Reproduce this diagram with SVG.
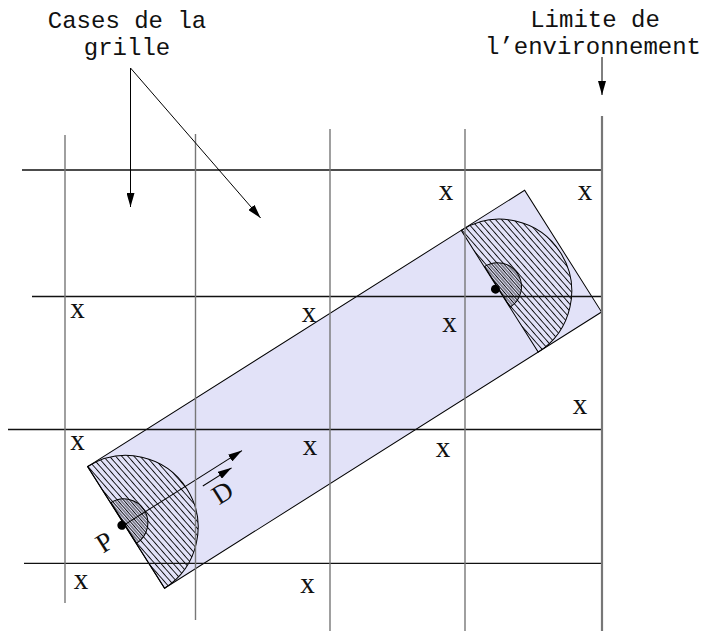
<svg xmlns="http://www.w3.org/2000/svg" width="707" height="631" viewBox="0 0 707 631">
<style>
text{font-family:"Liberation Mono","Courier New",monospace;fill:#111}
.lbl{font-size:24px;text-anchor:middle}
.mk{font-family:"Liberation Serif","Times New Roman",serif;font-size:29px;text-anchor:middle}
.sym{font-family:"Liberation Serif","Times New Roman",serif;font-size:27px;text-anchor:middle}
.h{stroke:#111;stroke-width:1.3;fill:none}
.v{stroke:#777;stroke-width:1.4;fill:none}
.lim{stroke:#777;stroke-width:2.2;fill:none}
.conn{stroke:#000;stroke-width:1;fill:none}
.ol{stroke:#000;stroke-width:1}
</style>
<defs>
<marker id="ah" markerUnits="userSpaceOnUse" markerWidth="14" markerHeight="8" refX="14" refY="4" orient="auto">
<path d="M0,0 L14,4 L0,8 Z" fill="#000"/>
</marker>
<pattern id="hatch" patternUnits="userSpaceOnUse" width="5" height="4.6" patternTransform="rotate(81)">
<path d="M0,2.3H5" stroke="#000" stroke-width="0.9"/>
</pattern>
<pattern id="hatch2" patternUnits="userSpaceOnUse" width="5" height="4.6" patternTransform="rotate(81)">
<path d="M0,0H5M0,4.6H5" stroke="#000" stroke-width="0.8"/>
</pattern>
</defs>
<rect width="707" height="631" fill="#fff"/>

<g id="zone" transform="translate(126.1,527.4) rotate(-32.3)">
<rect x="0" y="-72" width="517" height="144" fill="#e2e2f8" class="ol"/>
<g id="robot-start">
<path d="M0,-72 A72,72 0 0 1 0,72 Z" fill="url(#hatch)" class="ol"/>
<path d="M0.5,-29 A24,24 0 0 1 0.5,19 Z" fill="url(#hatch2)" class="ol"/>
<circle cx="-2.5" cy="-4" r="4.5" fill="#000"/>
<text class="sym" x="-26" y="10">P</text>
</g>
<g id="robot-end">
<path d="M442,-72 A72,72 0 0 1 442,72 Z" fill="url(#hatch)" class="ol"/>
<path d="M442.5,-29 A24,24 0 0 1 442.5,19 Z" fill="url(#hatch2)" class="ol"/>
<circle cx="439.5" cy="-4" r="4.5" fill="#000"/>
</g>
<g id="direction">
<line x1="-2.5" y1="-3" x2="139" y2="-3" class="conn" marker-end="url(#ah)"/>
<line x1="87" y1="6" x2="121" y2="6" class="conn" marker-end="url(#ah)"/>
<text class="sym" x="100" y="31">D</text>
</g>
</g>

<g id="grid">
<line class="h" x1="22" y1="170" x2="602" y2="170"/>
<line class="h" x1="32" y1="296.5" x2="602" y2="296.5"/>
<line class="h" x1="8" y1="429.5" x2="602" y2="429.5"/>
<line class="h" x1="24" y1="563.3" x2="602" y2="563.3"/>
<line class="v" x1="65" y1="135" x2="65" y2="603"/>
<line class="v" x1="195.5" y1="134" x2="195.5" y2="620"/>
<line class="v" x1="330" y1="129" x2="330" y2="631"/>
<line class="v" x1="465" y1="129" x2="465" y2="631"/>
<line class="lim" x1="602" y1="116" x2="602" y2="631"/>
</g>

<g id="marks">
<text class="mk" x="446" y="199.5">x</text>
<text class="mk" x="585" y="199.5">x</text>
<text class="mk" x="77.5" y="318">x</text>
<text class="mk" x="309" y="321.5">x</text>
<text class="mk" x="449.5" y="332">x</text>
<text class="mk" x="580" y="413.5">x</text>
<text class="mk" x="77.5" y="449.5">x</text>
<text class="mk" x="310" y="454.5">x</text>
<text class="mk" x="443" y="457">x</text>
<text class="mk" x="81" y="588.5">x</text>
<text class="mk" x="307.5" y="593">x</text>
</g>

<g id="label-cases">
<text class="lbl" x="127" y="28">Cases de la</text>
<text class="lbl" x="127" y="55">grille</text>
</g>
<g id="label-limite">
<text class="lbl" x="595" y="27">Limite de</text>
<text class="lbl" x="593" y="54">l’environnement</text>
</g>

<g id="connectors">
<line class="conn" x1="130.5" y1="68" x2="130.5" y2="207" marker-end="url(#ah)"/>
<line class="conn" x1="130.5" y1="68" x2="260.6" y2="218" marker-end="url(#ah)"/>
<line class="conn" x1="602" y1="57" x2="602" y2="95" marker-end="url(#ah)"/>
</g>
</svg>
